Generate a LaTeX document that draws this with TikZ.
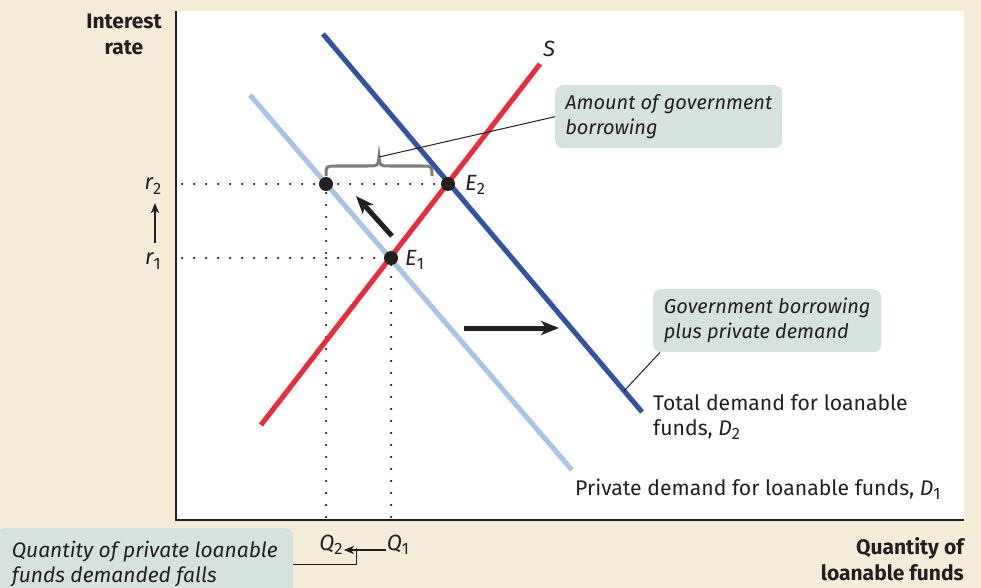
\documentclass[tikz,border=0pt]{standalone}
\usepackage{fontspec}
\setmainfont{Fira Sans}
\usetikzlibrary{arrows.meta,calc}
\definecolor{bg}{RGB}{245,236,216}
\definecolor{boxfill}{RGB}{214,226,222}
\definecolor{lblue}{RGB}{169,196,230}
\definecolor{dblue}{RGB}{50,82,164}
\definecolor{sred}{RGB}{236,42,60}
\definecolor{txt}{RGB}{35,31,32}
\definecolor{bracegray}{RGB}{125,125,125}
\newcommand{\lsub}[1]{\raisebox{-4.5pt}{\fontsize{16.5}{16.5}\selectfont\upshape #1}}
\begin{document}
\begin{tikzpicture}[x=1pt,y=-1pt,
  every node/.style={text=txt, inner sep=0pt},
  lbl/.style={font=\fontsize{21.2}{25}\selectfont, align=left},
  ilbl/.style={font=\fontsize{22}{25}\selectfont\itshape},
  blbl/.style={font=\fontsize{21}{26}\selectfont\bfseries},
  curve/.style={line width=5pt},
  axisline/.style={draw=txt, line width=2pt},
  dotline/.style={line width=2.5pt, line cap=round, dash pattern=on 0pt off 12pt, draw=txt},
  eqpt/.style={circle, fill=txt, minimum size=14pt},
  callout/.style={fill=boxfill, rounded corners=8pt, align=left, font=\fontsize{20}{25}\selectfont\itshape},
  qcallout/.style={callout, font=\fontsize{21}{25}\selectfont\itshape},
  leader/.style={draw=txt, line width=1pt},
  bigarrow/.style={line width=5pt, draw=txt, -{Stealth[length=18pt,width=14pt,inset=5pt]}},
  smallarrow/.style={line width=1.8pt, draw=txt, -{Stealth[length=10pt,width=8pt,inset=2.5pt]}},
]
\useasboundingbox (0,0) rectangle (981,588);
\fill[bg] (0,0) rectangle (981,588);
\fill[white] (176,11) rectangle (964,520);
\draw[axisline] (176,11) -- (176,520) -- (964,520);

% equilibrium points
\coordinate (Ap) at (326,184);
\coordinate (E1p) at (391,258);
\coordinate (E2p) at (448,184);

% dotted guide lines
\coordinate (r2ax) at (182,184);
\coordinate (r1ax) at (182,258);
\coordinate (q2ax) at (326,517);
\coordinate (q1ax) at (391,517);
\draw[dotline] (r2ax) -- (E2p);
\draw[dotline] (r1ax) -- (E1p);
\draw[dotline] (q2ax) -- (Ap);
\draw[dotline] (q1ax) -- (E1p);

% curves
\coordinate (d1s) at (250,95);
\coordinate (d1e) at (572,470);
\coordinate (d2s) at (323,34);
\coordinate (d2e) at (642,412);
\coordinate (ss) at (261,425);
\coordinate (se) at (540,64);
\draw[curve, lblue] (d1s) -- (d1e);
\draw[curve, dblue] (d2s) -- (d2e);
\draw[curve, sred] (ss) -- (se);

\node[eqpt] (A) at (Ap) {};
\node[eqpt] (E1) at (E1p) {};
\node[eqpt] (E2) at (E2p) {};

\node[ilbl, anchor=west] (E2l) at (465,185) {E\lsub{2}};
\node[ilbl, anchor=west] (E1l) at (405,260) {E\lsub{1}};
\node[ilbl] (Sl) at (549,49) {S};

% shift arrows
\coordinate (sh1) at (464,328);
\coordinate (sh2) at (559,328);
\draw[bigarrow] (sh1) -- (sh2);
\coordinate (mv1) at (392,236);
\coordinate (mv2) at (356,196);
\draw[bigarrow] (mv1) -- (mv2);

% brace
\coordinate (bt) at (379,157);
\draw[bracegray, line width=3pt]
  (326,176) .. controls (326,166) .. (336,166) -- (368,166)
  .. controls (378,166) .. (bt)
  .. controls (380,166) .. (390,166) -- (422,166)
  .. controls (432,166) .. (432,176);

% callouts
\node[callout, anchor=north west, minimum width=227pt, minimum height=63pt] (amt) at (555,85)
  {Amount of government\\borrowing};
\draw[leader] (bt) -- (amt.west);

\node[callout, anchor=north west, minimum width=228pt, minimum height=63pt] (gov) at (653,289)
  {Government borrowing\\plus private demand};
\coordinate (d2p) at ($(d2s)!0.944!(d2e)$);
\draw[leader] ([xshift=7pt]gov.south west) -- (d2p);

\node[lbl, anchor=west] (tot) at (653,417) {Total demand for loanable\\funds, \textit{D}\lsub{2}};
\node[lbl, anchor=west] (priv) at (575,489) {Private demand for loanable funds, \textit{D}\lsub{1}};

% axis labels
\node[blbl, align=center] (ylab) at (124,34) {Interest\\rate};
\node[blbl, align=right, anchor=east] (xlab) at (964,559) {Quantity of\\loanable funds};

\node[ilbl] (r2) at (153,186) {r\lsub{2}};
\node[ilbl] (r1) at (153,261) {r\lsub{1}};
\coordinate (rarr1) at (155,243);
\coordinate (rarr2) at (155,203);
\draw[smallarrow] (rarr1) -- (rarr2);

\node[ilbl] (Q2) at (331,545) {Q\lsub{2}};
\node[ilbl] (Q1) at (398,545) {Q\lsub{1}};
\draw[smallarrow] ([yshift=-5pt,xshift=-1pt]Q1.west) -- ([yshift=-5pt,xshift=1pt]Q2.east);

\begin{scope}
\clip (0,0) rectangle (981,588);
\node[qcallout, anchor=north east, minimum width=296pt, minimum height=72pt] (qbox) at (293,528)
  {Quantity of private loanable\\funds demanded falls};
\end{scope}
\coordinate (qend) at (356,548);
\draw[leader] (qbox.east) -| (qend);
\end{tikzpicture}
\end{document}
